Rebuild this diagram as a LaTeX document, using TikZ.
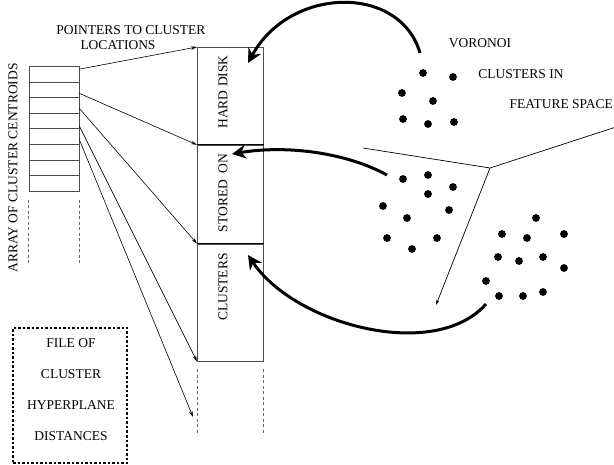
\documentclass[tikz,border=0pt]{standalone}
\usepackage{fontspec}
\setmainfont{Liberation Serif}
\usepackage{graphicx}
\usetikzlibrary{arrows.meta}

\tikzset{
  cell/.style={draw=black!70, line width=0.7pt, minimum width=50pt, minimum height=15.625pt, inner sep=0pt, anchor=north},
  slot/.style={draw=black!70, line width=0.8pt, minimum width=66pt, inner sep=0pt, anchor=north west},
  divider/.style={line width=1.4pt},
  pointer/.style={line width=0.6pt, -{Stealth[length=6pt,width=3.5pt]}},
  bigarrow/.style={line width=3pt, -{Stealth[length=14pt,width=14pt]}},
  guide/.style={black!60, line width=1pt, dash pattern=on 3pt off 2.5pt},
  filebox/.style={draw, line width=1.2pt, dash pattern=on 2.5pt off 2pt, minimum width=114pt, minimum height=135pt},
  edge/.style={line width=0.7pt},
}

\begin{document}
\begin{tikzpicture}[x=1pt, y=-1pt, every node/.style={font=\fontsize{13.5}{16}\selectfont}]
\useasboundingbox (0,0) rectangle (614,465);

% Array of centroids
\foreach \i in {0,...,7}
  \node[cell] (c\i) at (54, 66+15.625*\i) {};
\node[rotate=90] (arrlabel) at (13,168) {ARRAY OF CLUSTER CENTROIDS};
\draw[guide] ([yshift=-8pt]c7.south west) -- ([yshift=-74pt]c7.south west);
\draw[guide] ([yshift=-8pt]c7.south east) -- ([yshift=-74pt]c7.south east);

\node (ptrtop) at (131,30) {POINTERS TO CLUSTER};
\node (ptrbot) at (118,45) {LOCATIONS};

% Disk
\node[slot, minimum height=97pt] (hd) at (197,47) {};
\node[slot, minimum height=98pt] (so) at (hd.south west) {};
\node[slot, minimum height=117pt] (cl) at (so.south west) {};
\draw[divider] (hd.south west) -- (hd.south east);
\draw[divider] (so.south west) -- (so.south east);
\node[rotate=90] (hdlabel) at (223,92) {HARD DISK};
\node[rotate=90] (solabel) at (223,193) {STORED\ \ ON};
\node[rotate=90] (cllabel) at (223,287) {CLUSTERS};
\draw[guide] ([yshift=-8pt]cl.south west) -- ([yshift=-74pt]cl.south west);
\draw[guide] ([yshift=-8pt]cl.south east) -- ([yshift=-74pt]cl.south east);
\coordinate (below) at (193,417);

% Pointers
\draw[pointer] ([yshift=5pt]c0.east)  -- (hd.north west);
\draw[pointer] ([yshift=-3.6pt]c1.east) -- (so.north west);
\draw[pointer] ([yshift=-3pt]c2.east) -- (cl.north west);
\draw[pointer] ([yshift=-5pt]c3.east) -- (cl.south west);
\draw[pointer] ([yshift=-3pt]c4.east) -- (below);

% Feature space
\node (voronoi) at (480,43) {VORONOI};
\node (clin) at (521,74) {CLUSTERS IN};
\node[anchor=west] (fspace) at (506,104) {FEATURE SPACE};

\coordinate (vj) at (490,168);
\coordinate (v1) at (363,148);
\coordinate (v2) at (616,127);
\coordinate (v3) at (436,305);
\draw[edge] (v1) -- (vj) -- (v2);
\draw[edge, -{Stealth[length=5pt,width=3pt]}] (vj) -- (v3);

\foreach \p in {(423,73),(453,77),(402,93),(433,101),(403,119),(428,124),(454,122),
  (403,179),(428,175),(453,187),(428,194),(383,206),(449,210),(407,218),(387,238),(437,238),(412,249),
  (536,218),(502,234),(527,238),(564,234),(498,257),(519,261),(543,257),(564,268),(486,281),(499,296),(523,296),(543,292)}
  \fill \p circle (3.9pt);

% Clusters to disk
\coordinate (s1) at (420,53);
\coordinate (t1) at (248,63);
\coordinate (s2) at (387,175);
\coordinate (t2) at (232,154);
\coordinate (s3) at (486,304);
\coordinate (t3) at (248,255);
\draw[bigarrow] (s1) .. controls (400,-16) and (290,-14) .. (t1);
\draw[bigarrow] (s2) .. controls (345,152) and (285,145) .. (t2);
\draw[bigarrow] (s3) .. controls (435,362) and (295,325) .. (t3);

% Hyperplane file
\node[filebox] (file) at (70,395.5) {};
\node[align=center, font=\fontsize{13.5}{31}\selectfont] (filetxt) at (71,390) {FILE OF\\CLUSTER\\HYPERPLANE\\DISTANCES};

\end{tikzpicture}
\end{document}
